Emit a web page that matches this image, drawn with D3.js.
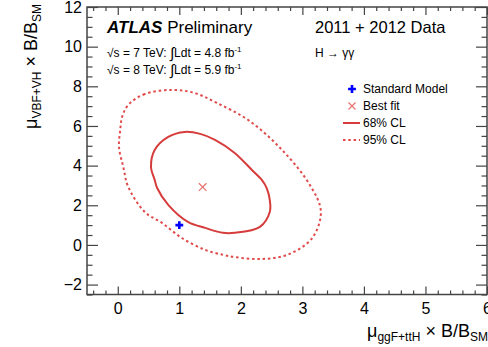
<!DOCTYPE html>
<html>
<head>
<meta charset="utf-8">
<script src="https://cdn.jsdelivr.net/npm/d3@7"></script>
<style>
  body { margin: 0; background: #fff; }
  text { font-family: "Liberation Sans", Arial, sans-serif; }
</style>
</head>
<body>
<div class="canvas"></div>
<script>
// Data
const cl68X = [1.34, 1.09, 0.82, 0.60, 0.54, 0.60, 0.64, 0.82, 1.14, 1.42, 1.71, 1.90, 2.31, 2.47, 2.47, 2.42, 2.34, 2.18, 1.90, 1.58];
const cl68Y = [5.60, 5.70, 5.45, 4.79, 3.93, 3.28, 2.87, 2.02, 1.16, 0.86, 0.61, 0.61, 0.91, 1.66, 2.27, 2.87, 3.28, 3.78, 4.64, 5.30];
const cl95X = [0.88, 0.44, 0.17, 0.07, 0.04, 0.02, 0.09, 0.17, 0.44, 0.72, 1.04, 1.42, 1.71, 1.90, 2.34, 2.77, 3.16, 3.30, 3.12, 2.67, 2.12, 1.61, 1.25];
const cl95Y = [7.82, 7.61, 7.06, 6.45, 5.80, 4.94, 3.93, 2.93, 1.66, 1.11, 0.35, -0.25, -0.50, -0.61, -0.71, -0.48, 0.35, 1.70, 3.03, 4.79, 6.30, 7.16, 7.66];
const bestFit = [1.38, 2.92];
const standardModel = [1, 1];
const xTicks = [0, 1, 2, 3, 4, 5, 6];
const yTicks = [-2, 0, 2, 4, 6, 8, 10, 12];
const legendLabels = ['Standard Model', 'Best fit', '68% CL', '95% CL'];

const width = 488, height = 347;
const svg = d3.select('.canvas')
    .append('svg')
        .attr('width', width)
        .attr('height', height);

const plotLeft = 87, plotRight = 487, plotTop = 7, plotBottom = 294.5;
const x = d3.scaleLinear().domain([-0.5, 6]).range([plotLeft, plotRight]);
const y = d3.scaleLinear().domain([-2.5, 12]).range([plotBottom, plotTop]);

const axisColor = '#444';
const red = '#d63c3c';

// minor tick positions
const xMinor = d3.range(-0.4, 6.0001, 0.2).map(v => +v.toFixed(2)).filter(v => !xTicks.includes(v));
const yMinor = d3.range(-2.5, 12.0001, 0.5).filter(v => !yTicks.includes(v));

function styleAxis(g) {
    g.select('.domain').remove();
    g.selectAll('line').attr('stroke', axisColor).attr('stroke-width', 1.2);
    g.selectAll('text').attr('fill', '#000').attr('font-size', 16)
        .attr('font-family', '"Liberation Sans", Arial, sans-serif');
}

// bottom
svg.append('g').attr('transform', `translate(0,${plotBottom})`)
    .call(d3.axisBottom(x).tickValues(xTicks).tickSizeInner(-8).tickSizeOuter(0).tickPadding(8).tickFormat(d3.format('d')))
    .call(styleAxis);
svg.append('g').attr('transform', `translate(0,${plotBottom})`)
    .call(d3.axisBottom(x).tickValues(xMinor).tickSizeInner(-4).tickSizeOuter(0).tickFormat(''))
    .call(styleAxis);
// top mirror
svg.append('g').attr('transform', `translate(0,${plotTop})`)
    .call(d3.axisTop(x).tickValues(xTicks).tickSizeInner(-8).tickSizeOuter(0).tickFormat(''))
    .call(styleAxis);
svg.append('g').attr('transform', `translate(0,${plotTop})`)
    .call(d3.axisTop(x).tickValues(xMinor).tickSizeInner(-4).tickSizeOuter(0).tickFormat(''))
    .call(styleAxis);
// left
svg.append('g').attr('transform', `translate(${plotLeft},0)`)
    .call(d3.axisLeft(y).tickValues(yTicks).tickSizeInner(-11).tickSizeOuter(0).tickPadding(5).tickFormat(d3.format('d')))
    .call(styleAxis);
svg.append('g').attr('transform', `translate(${plotLeft},0)`)
    .call(d3.axisLeft(y).tickValues(yMinor).tickSizeInner(-5.5).tickSizeOuter(0).tickFormat(''))
    .call(styleAxis);
// right mirror
svg.append('g').attr('transform', `translate(${plotRight},0)`)
    .call(d3.axisRight(y).tickValues(yTicks).tickSizeInner(-11).tickSizeOuter(0).tickFormat(''))
    .call(styleAxis);
svg.append('g').attr('transform', `translate(${plotRight},0)`)
    .call(d3.axisRight(y).tickValues(yMinor).tickSizeInner(-5.5).tickSizeOuter(0).tickFormat(''))
    .call(styleAxis);

// frame
svg.append('rect')
    .attr('x', plotLeft).attr('y', plotTop)
    .attr('width', plotRight - plotLeft).attr('height', plotBottom - plotTop)
    .attr('fill', 'none').attr('stroke', axisColor).attr('stroke-width', 1.5);

// contours
const contour = d3.line()
    .x(d => x(d[0]))
    .y(d => y(d[1]))
    .curve(d3.curveCatmullRomClosed);

svg.append('path')
    .attr('d', contour(cl95X.map((v, i) => [v, cl95Y[i]])))
    .attr('fill', 'none').attr('stroke', '#e04a4a').attr('stroke-width', 2)
    .attr('stroke-dasharray', '2.5,2.8');

svg.append('path')
    .attr('d', contour(cl68X.map((v, i) => [v, cl68Y[i]])))
    .attr('fill', 'none').attr('stroke', red).attr('stroke-width', 2);

// markers
function drawCross(g, cx, cy, r) {
    g.append('path')
        .attr('d', `M${cx - r},${cy - r}L${cx + r},${cy + r}M${cx - r},${cy + r}L${cx + r},${cy - r}`)
        .attr('stroke', '#e8706e').attr('stroke-width', 1.2).attr('fill', 'none');
}
function drawPlus(g, cx, cy) {
    g.append('path')
        .attr('d', d3.symbol(d3.symbolCross, 34)())
        .attr('transform', `translate(${cx},${cy})`)
        .attr('fill', '#0000ff');
}
drawCross(svg, x(bestFit[0]), y(bestFit[1]), 3.8);
drawPlus(svg, x(standardModel[0]), y(standardModel[1]));

// legend
const legX = 352, legTextX = 363, legY0 = 89, legStep = 17;
drawPlus(svg, legX, legY0);
drawCross(svg, legX, legY0 + legStep, 3.5);
svg.append('line')
    .attr('x1', 343).attr('x2', 360).attr('y1', legY0 + 2 * legStep).attr('y2', legY0 + 2 * legStep)
    .attr('stroke', red).attr('stroke-width', 2);
svg.append('line')
    .attr('x1', 343).attr('x2', 360).attr('y1', legY0 + 3 * legStep).attr('y2', legY0 + 3 * legStep)
    .attr('stroke', '#e04a4a').attr('stroke-width', 2).attr('stroke-dasharray', '2.5,2.8');
svg.selectAll('.leg')
    .data(legendLabels)
    .enter()
    .append('text')
        .attr('x', legTextX)
        .attr('y', (d, i) => legY0 + i * legStep)
        .attr('dy', '0.35em')
        .attr('font-size', 12)
        .text(d => d);

// header texts
const atlas = svg.append('text').attr('x', 107).attr('y', 33).attr('font-size', 17);
atlas.append('tspan').attr('font-weight', 'bold').attr('font-style', 'italic').text('ATLAS');
atlas.append('tspan').text(' Preliminary');

svg.append('text').attr('x', 315).attr('y', 33).attr('font-size', 16.5).text('2011 + 2012 Data');
svg.append('text').attr('x', 315).attr('y', 57).attr('font-size', 12).text('H \u2192 \u03b3\u03b3');

function energyLine(yPos, e, lumi) {
    const t = svg.append('text').attr('x', 107).attr('y', yPos).attr('font-size', 12);
    t.append('tspan').text('\u221as = ' + e + ' TeV: ');
    t.append('tspan').attr('font-size', 15).attr('dy', 1).text('\u222b');
    t.append('tspan').attr('dy', -1).text('Ldt = ' + lumi + ' fb');
    t.append('tspan').attr('font-size', 8).attr('dy', -5).text('-1');
}
energyLine(57, 7, '4.8');
energyLine(74, 8, '5.9');

// axis titles
const xt = svg.append('text').attr('x', 488).attr('y', 337).attr('text-anchor', 'end').attr('font-size', 18);
xt.append('tspan').text('\u03bc');
xt.append('tspan').attr('font-size', 12).attr('dy', 4).text('ggF+ttH');
xt.append('tspan').attr('dy', -4).text(' \u00d7 B/B');
xt.append('tspan').attr('font-size', 12).attr('dy', 4).text('SM');

const yt = svg.append('text').attr('transform', 'translate(37,4) rotate(-90)')
    .attr('text-anchor', 'end').attr('font-size', 18);
yt.append('tspan').text('\u03bc');
yt.append('tspan').attr('font-size', 12).attr('dy', 4).text('VBF+VH');
yt.append('tspan').attr('dy', -4).text(' \u00d7 B/B');
yt.append('tspan').attr('font-size', 12).attr('dy', 4).text('SM');
</script>
</body>
</html>
